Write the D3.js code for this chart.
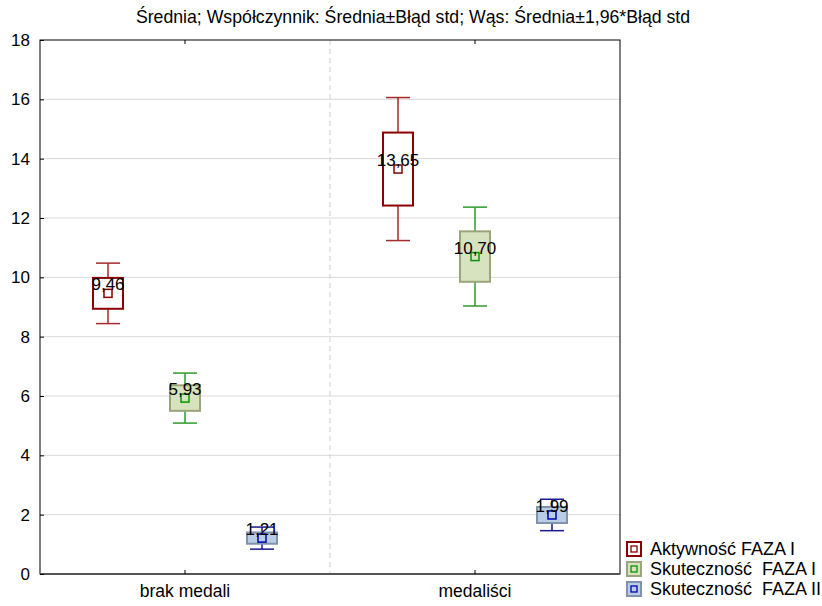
<!DOCTYPE html>
<html>
<head>
<meta charset="utf-8">
<script src="https://cdn.jsdelivr.net/npm/d3@7/dist/d3.min.js"></script>
<style>
  body { margin: 0; background: #fff; }
  svg { font-family: "Liberation Sans", Arial, sans-serif; }
</style>
</head>
<body>
<svg width="822" height="606"></svg>
<script>
const title = 'Średnia; Współczynnik: Średnia±Błąd std; Wąs: Średnia±1,96*Błąd std';
const categories = ['brak medali', 'medaliści'];
const seriesNames = ['Aktywność FAZA I', 'Skuteczność  FAZA I', 'Skuteczność  FAZA II'];
// means and standard errors per series, one entry per category
const meanAktywnosc = [9.46, 13.65];
const seAktywnosc = [0.52, 1.23];
const meanSkutI = [5.93, 10.70];
const seSkutI = [0.43, 0.85];
const meanSkutII = [1.21, 1.99];
const seSkutII = [0.19, 0.27];
const yTicks = [0, 2, 4, 6, 8, 10, 12, 14, 16, 18];

const means = [meanAktywnosc, meanSkutI, meanSkutII];
const ses = [seAktywnosc, seSkutI, seSkutII];

const styles = [
  { fill: '#ffffff', stroke: '#8b0000', whisker: '#a52a2a', marker: '#8b0000' },
  { fill: '#d7e3bf', stroke: '#9aa57c', whisker: '#2e9a2e', marker: '#009900' },
  { fill: '#b9cde5', stroke: '#7f93ad', whisker: '#1a1a8c', marker: '#0000b0' }
];

var config = {
  left: 40, right: 620, top: 40, bottom: 574,
  boxWidth: 30, capWidth: 24, markerSize: 8,
  font: '"Liberation Sans", Arial, sans-serif'
};

const svg = d3.select('svg');

const x0 = d3.scaleBand().domain(categories).range([config.left, config.right]);
const x1 = d3.scalePoint().domain(seriesNames)
  .range([x0.bandwidth() / 2 - 77, x0.bandwidth() / 2 + 77]);
const y = d3.scaleLinear().domain([0, 18]).range([config.bottom, config.top]);

// title
svg.append('text')
  .attr('x', 413).attr('y', 23)
  .attr('text-anchor', 'middle')
  .style('font-size', '17.7px')
  .text(title);

// grid
svg.append('g').selectAll('line')
  .data(yTicks.filter(t => t > 0 && t < 18))
  .enter().append('line')
  .attr('x1', config.left).attr('x2', config.right)
  .attr('y1', d => y(d)).attr('y2', d => y(d))
  .attr('stroke', '#d9d9d9').attr('stroke-width', 1);

svg.append('line')
  .attr('x1', x0('medaliści')).attr('x2', x0('medaliści'))
  .attr('y1', config.top).attr('y2', config.bottom)
  .attr('stroke', '#d0d0d0').attr('stroke-dasharray', '5,4');

// frame
svg.append('rect')
  .attr('x', config.left).attr('y', config.top)
  .attr('width', config.right - config.left)
  .attr('height', config.bottom - config.top)
  .attr('fill', 'none').attr('stroke', '#000');

svg.append('line')
  .attr('x1', config.left).attr('x2', config.right)
  .attr('y1', config.bottom).attr('y2', config.bottom)
  .attr('stroke', '#555').attr('stroke-width', 2);

// y axis
const yAxis = d3.axisLeft(y).tickValues(yTicks).tickSize(-4).tickPadding(10);
const gy = svg.append('g').attr('transform', `translate(${config.left},0)`).call(yAxis);
gy.select('.domain').remove();
gy.selectAll('text').style('font-size', '17px').attr('fill', '#000')
  .attr('font-family', config.font);

// x axis
const xAxis = d3.axisBottom(x0).tickSize(-4).tickPadding(11);
const gx = svg.append('g').attr('transform', `translate(0,${config.bottom})`).call(xAxis);
gx.select('.domain').remove();
gx.selectAll('text').style('font-size', '17.5px').attr('fill', '#000')
  .attr('font-family', config.font);

// top ticks
svg.append('g').selectAll('line')
  .data(categories).enter().append('line')
  .attr('x1', d => x0(d) + x0.bandwidth() / 2)
  .attr('x2', d => x0(d) + x0.bandwidth() / 2)
  .attr('y1', config.top).attr('y2', config.top + 4)
  .attr('stroke', '#000');

// boxes
seriesNames.forEach(function (name, si) {
  const st = styles[si];
  categories.forEach(function (cat, ci) {
    const m = means[si][ci], se = ses[si][ci];
    const cx = x0(cat) + x1(name);
    const g = svg.append('g');
    const wLo = m - 1.96 * se, wHi = m + 1.96 * se;
    g.append('line')
      .attr('x1', cx).attr('x2', cx)
      .attr('y1', y(wHi)).attr('y2', y(wLo))
      .attr('stroke', st.whisker).attr('stroke-width', 1.5);
    [wLo, wHi].forEach(v => g.append('line')
      .attr('x1', cx - config.capWidth / 2).attr('x2', cx + config.capWidth / 2)
      .attr('y1', y(v)).attr('y2', y(v))
      .attr('stroke', st.whisker).attr('stroke-width', 1.5));
    g.append('rect')
      .attr('x', cx - config.boxWidth / 2)
      .attr('y', y(m + se))
      .attr('width', config.boxWidth)
      .attr('height', y(m - se) - y(m + se))
      .attr('fill', st.fill).attr('stroke', st.stroke).attr('stroke-width', 2);
    g.append('rect')
      .attr('x', cx - config.markerSize / 2)
      .attr('y', y(m) - config.markerSize / 2)
      .attr('width', config.markerSize).attr('height', config.markerSize)
      .attr('fill', 'none').attr('stroke', st.marker).attr('stroke-width', 1.5);
    g.append('text')
      .attr('x', cx).attr('y', y(m) - 3)
      .attr('text-anchor', 'middle')
      .style('font-size', '17px')
      .text(d3.format('.2f')(m).replace('.', ','));
  });
});

// legend
const legend = svg.append('g').attr('transform', 'translate(626,541)');
seriesNames.forEach(function (name, i) {
  const st = styles[i];
  const gl = legend.append('g').attr('transform', `translate(0,${i * 20})`);
  gl.append('rect').attr('x', 1).attr('y', 1).attr('width', 14).attr('height', 14)
    .attr('fill', st.fill).attr('stroke', st.stroke).attr('stroke-width', 2);
  gl.append('rect').attr('x', 5).attr('y', 5).attr('width', 6).attr('height', 6)
    .attr('fill', 'none').attr('stroke', st.marker).attr('stroke-width', 1.3);
  gl.append('text').attr('x', 24).attr('y', 14)
    .style('font-size', '18px').style('white-space', 'pre')
    .attr('xml:space', 'preserve')
    .text(name);
});
</script>
</body>
</html>
